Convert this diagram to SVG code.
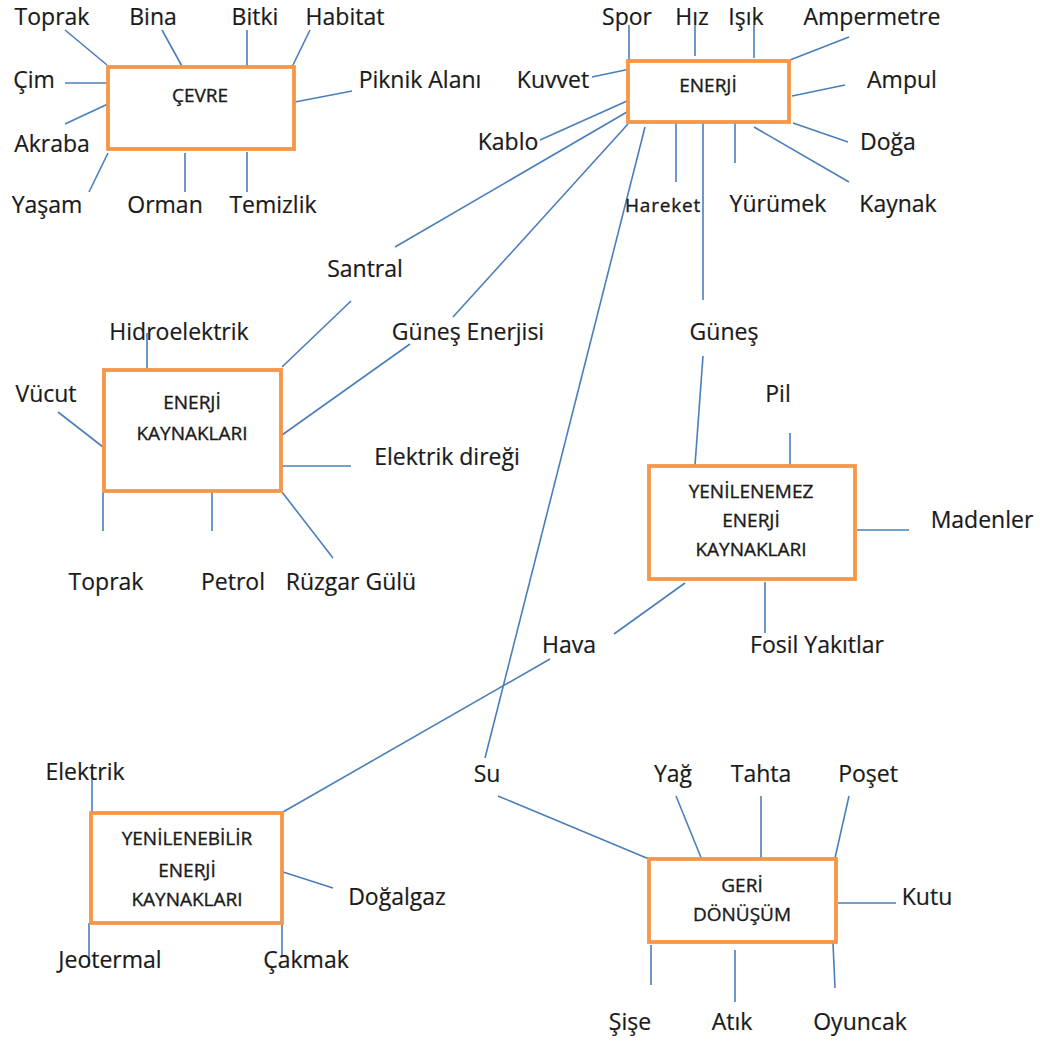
<svg xmlns="http://www.w3.org/2000/svg" width="1050" height="1041" viewBox="0 0 1050 1041">
<style>
.box{fill:#fff;stroke:#F79646;stroke-width:3.8}
.bt{font-family:"Open Sans","Liberation Sans",sans-serif;font-size:19px;fill:#1a1a1a;stroke:#1a1a1a;stroke-width:0.35;text-anchor:middle}
.lb{font-family:"Open Sans","Liberation Sans",sans-serif;font-size:23px;fill:#1a1a1a;stroke:#1a1a1a;stroke-width:0.2;text-anchor:middle}
.sm{font-size:19px;letter-spacing:0.8px;stroke-width:0.35}
#connectors line{stroke:#4A7EBB;stroke-width:1.6}
</style>
<rect width="1050" height="1041" fill="#fff"/>
<g id="connectors">
<line x1="65" y1="30" x2="107" y2="65"/>
<line x1="162" y1="30" x2="183" y2="68"/>
<line x1="247" y1="30" x2="247" y2="68"/>
<line x1="310" y1="30" x2="292" y2="67"/>
<line x1="65" y1="83" x2="108" y2="83"/>
<line x1="65" y1="124" x2="110" y2="103"/>
<line x1="295" y1="102" x2="352" y2="91"/>
<line x1="89" y1="192" x2="108" y2="153"/>
<line x1="185" y1="153" x2="185" y2="192"/>
<line x1="247" y1="152" x2="247" y2="192"/>
<line x1="629" y1="25" x2="629" y2="61"/>
<line x1="695" y1="25" x2="695" y2="56"/>
<line x1="754" y1="25" x2="754" y2="58"/>
<line x1="849" y1="37" x2="790" y2="60"/>
<line x1="592" y1="77" x2="630" y2="69"/>
<line x1="792" y1="96" x2="845" y2="85"/>
<line x1="540" y1="140" x2="627" y2="101"/>
<line x1="793" y1="123" x2="848" y2="142"/>
<line x1="676" y1="123" x2="676" y2="182"/>
<line x1="735" y1="123" x2="735" y2="163"/>
<line x1="754" y1="127" x2="849" y2="182"/>
<line x1="627" y1="112" x2="395" y2="247"/>
<line x1="628" y1="124" x2="453" y2="317"/>
<line x1="645" y1="127" x2="485" y2="758"/>
<line x1="703" y1="123" x2="703" y2="300"/>
<line x1="351" y1="301" x2="282" y2="367"/>
<line x1="410" y1="344" x2="282" y2="435"/>
<line x1="147" y1="333" x2="147" y2="372"/>
<line x1="58" y1="412" x2="103" y2="447"/>
<line x1="282" y1="466" x2="351" y2="466"/>
<line x1="103" y1="492" x2="103" y2="531"/>
<line x1="212" y1="492" x2="212" y2="531"/>
<line x1="282" y1="492" x2="333" y2="558"/>
<line x1="703" y1="356" x2="695" y2="465"/>
<line x1="790" y1="433" x2="790" y2="467"/>
<line x1="857" y1="530" x2="909" y2="530"/>
<line x1="765" y1="582" x2="765" y2="633"/>
<line x1="685" y1="583" x2="614" y2="634"/>
<line x1="550" y1="659" x2="283" y2="812"/>
<line x1="92" y1="772" x2="92" y2="813"/>
<line x1="283" y1="872" x2="333" y2="888"/>
<line x1="89" y1="923" x2="89" y2="967"/>
<line x1="282" y1="918" x2="282" y2="957"/>
<line x1="498" y1="796" x2="649" y2="859"/>
<line x1="676" y1="796" x2="702" y2="860"/>
<line x1="761" y1="796" x2="761" y2="860"/>
<line x1="849" y1="796" x2="835" y2="858"/>
<line x1="838" y1="903" x2="896" y2="903"/>
<line x1="651" y1="945" x2="651" y2="985"/>
<line x1="735" y1="950" x2="735" y2="1002"/>
<line x1="833" y1="943" x2="835" y2="988"/>
</g>
<g id="cevre"><rect class="box" x="108" y="67" width="186" height="82"/><text class="bt" x="200" y="102">ÇEVRE</text></g>
<g id="enerji"><rect class="box" x="628" y="61" width="161" height="61"/><text class="bt" x="708" y="92">ENERJİ</text></g>
<g id="enerji-kaynaklari"><rect class="box" x="104" y="370" width="177" height="121"/><text class="bt" x="192" y="409">ENERJİ</text><text class="bt" x="192" y="440">KAYNAKLARI</text></g>
<g id="yenilenemez"><rect class="box" x="649" y="466" width="206" height="113"/><text class="bt" x="751" y="498">YENİLENEMEZ</text><text class="bt" x="751" y="527">ENERJİ</text><text class="bt" x="751" y="556">KAYNAKLARI</text></g>
<g id="yenilenebilir"><rect class="box" x="91" y="813" width="191" height="110"/><text class="bt" x="187" y="845">YENİLENEBİLİR</text><text class="bt" x="187" y="877">ENERJİ</text><text class="bt" x="187" y="906">KAYNAKLARI</text></g>
<g id="geri-donusum"><rect class="box" x="649" y="859" width="187" height="83"/><text class="bt" x="742" y="892">GERİ</text><text class="bt" x="742" y="921">DÖNÜŞÜM</text></g>
<g id="l-toprak1"><text class="lb" x="52" y="25">Toprak</text></g>
<g id="l-bina"><text class="lb" x="153" y="25">Bina</text></g>
<g id="l-bitki"><text class="lb" x="255" y="25">Bitki</text></g>
<g id="l-habitat"><text class="lb" x="345" y="25">Habitat</text></g>
<g id="l-cim"><text class="lb" x="34" y="88">Çim</text></g>
<g id="l-piknik"><text class="lb" x="420" y="88">Piknik Alanı</text></g>
<g id="l-akraba"><text class="lb" x="52" y="152">Akraba</text></g>
<g id="l-yasam"><text class="lb" x="47" y="213">Yaşam</text></g>
<g id="l-orman"><text class="lb" x="165" y="213">Orman</text></g>
<g id="l-temizlik"><text class="lb" x="273" y="213">Temizlik</text></g>
<g id="l-spor"><text class="lb" x="627" y="25">Spor</text></g>
<g id="l-hiz"><text class="lb" x="692" y="25">Hız</text></g>
<g id="l-isik"><text class="lb" x="746" y="25">Işık</text></g>
<g id="l-ampermetre"><text class="lb" x="872" y="25">Ampermetre</text></g>
<g id="l-kuvvet"><text class="lb" x="553" y="88">Kuvvet</text></g>
<g id="l-ampul"><text class="lb" x="902" y="88">Ampul</text></g>
<g id="l-kablo"><text class="lb" x="508" y="150">Kablo</text></g>
<g id="l-doga"><text class="lb" x="888" y="150">Doğa</text></g>
<g id="l-hareket"><text class="lb sm" x="663" y="212">Hareket</text></g>
<g id="l-yurumek"><text class="lb" x="778" y="212">Yürümek</text></g>
<g id="l-kaynak"><text class="lb" x="898" y="212">Kaynak</text></g>
<g id="l-santral"><text class="lb" x="365" y="277">Santral</text></g>
<g id="l-gunes-enerjisi"><text class="lb" x="468" y="340">Güneş Enerjisi</text></g>
<g id="l-gunes"><text class="lb" x="724" y="340">Güneş</text></g>
<g id="l-hidroelektrik"><text class="lb" x="179" y="340">Hidroelektrik</text></g>
<g id="l-vucut"><text class="lb" x="46" y="402">Vücut</text></g>
<g id="l-elektrik-diregi"><text class="lb" x="447" y="465">Elektrik direği</text></g>
<g id="l-toprak2"><text class="lb" x="106" y="590">Toprak</text></g>
<g id="l-petrol"><text class="lb" x="233" y="590">Petrol</text></g>
<g id="l-ruzgar"><text class="lb" x="351" y="590">Rüzgar Gülü</text></g>
<g id="l-pil"><text class="lb" x="778" y="402">Pil</text></g>
<g id="l-madenler"><text class="lb" x="982" y="528">Madenler</text></g>
<g id="l-hava"><text class="lb" x="569" y="653">Hava</text></g>
<g id="l-fosil"><text class="lb" x="817" y="653">Fosil Yakıtlar</text></g>
<g id="l-elektrik"><text class="lb" x="85" y="780">Elektrik</text></g>
<g id="l-su"><text class="lb" x="487" y="782">Su</text></g>
<g id="l-yag"><text class="lb" x="673" y="782">Yağ</text></g>
<g id="l-tahta"><text class="lb" x="761" y="782">Tahta</text></g>
<g id="l-poset"><text class="lb" x="868" y="782">Poşet</text></g>
<g id="l-dogalgaz"><text class="lb" x="397" y="905">Doğalgaz</text></g>
<g id="l-kutu"><text class="lb" x="927" y="905">Kutu</text></g>
<g id="l-jeotermal"><text class="lb" x="110" y="968">Jeotermal</text></g>
<g id="l-cakmak"><text class="lb" x="306" y="968">Çakmak</text></g>
<g id="l-sise"><text class="lb" x="630" y="1030">Şişe</text></g>
<g id="l-atik"><text class="lb" x="732" y="1030">Atık</text></g>
<g id="l-oyuncak"><text class="lb" x="860" y="1030">Oyuncak</text></g>
</svg>
